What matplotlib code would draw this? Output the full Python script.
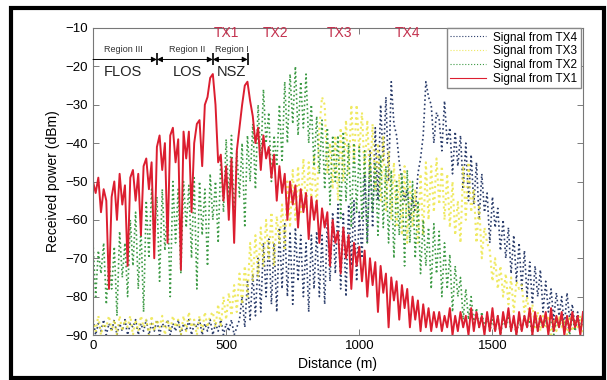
import numpy as np
import matplotlib
matplotlib.use('Agg')
import matplotlib.pyplot as plt
from matplotlib.patches import Rectangle

plt.rcParams['font.family'] = ['Liberation Sans', 'DejaVu Sans']

# Distancia (m), un valor cada 10 m
dist = np.arange(0, 1841, 10)

# Potencia recibida (dBm), cada fila = 100 m
tx1 = [
    -50, -53, -49, -58, -52, -55, -78, -54, -50, -60,
    -48, -56, -51, -72, -49, -47, -55, -48, -64, -46,
    -44, -52, -45, -70, -41, -38, -47, -40, -66, -38,
    -36, -45, -39, -73, -37, -44, -37, -58, -40, -35,
    -34, -46, -30, -28, -23, -22, -30, -45, -43, -55,
    -46, -60, -44, -66, -42, -36, -30, -25, -24, -29,
    -33, -40, -36, -47, -38, -44, -41, -49, -43, -55,
    -46, -53, -48, -60, -50, -56, -51, -62, -52, -58,
    -53, -65, -54, -60, -55, -66, -57, -62, -58, -72,
    -60, -66, -63, -74, -62, -70, -64, -78, -66, -72,
    -67, -76, -68, -80, -70, -77, -71, -84, -72, -79,
    -74, -88, -75, -81, -76, -86, -77, -83, -78, -88,
    -80, -86, -81, -89, -82, -88, -83, -89, -84, -88,
    -84, -89, -85, -88, -83, -90, -85, -89, -84, -88,
    -85, -90, -83, -89, -84, -88, -85, -90, -84, -89,
    -83, -89, -85, -90, -84, -88, -83, -89, -85, -90,
    -84, -89, -85, -88, -83, -90, -84, -89, -85, -88,
    -84, -90, -83, -89, -85, -88, -84, -90, -85, -89,
    -84, -88, -85, -90, -84,
]
tx2 = [
    -66, -80, -68, -74, -66, -82, -70, -78, -67, -85,
    -63, -75, -66, -80, -60, -72, -58, -78, -62, -84,
    -55, -70, -52, -66, -54, -76, -52, -68, -56, -80,
    -50, -66, -52, -74, -50, -62, -51, -70, -49, -78,
    -50, -64, -52, -72, -48, -60, -50, -66, -44, -58,
    -39, -55, -38, -60, -42, -54, -40, -62, -38, -50,
    -35, -52, -30, -45, -26, -40, -32, -50, -38, -46,
    -30, -45, -24, -40, -22, -35, -20, -38, -24, -36,
    -22, -40, -30, -46, -33, -48, -34, -52, -36, -56,
    -38, -50, -38, -60, -37, -55, -40, -62, -40, -58,
    -41, -60, -42, -66, -44, -58, -45, -64, -43, -62,
    -46, -66, -47, -70, -50, -64, -48, -72, -47, -66,
    -50, -70, -55, -74, -60, -72, -62, -78, -61, -74,
    -63, -80, -66, -78, -69, -84, -72, -80, -75, -86,
    -78, -86, -80, -87, -83, -88, -84, -88, -85, -89,
    -86, -89, -85, -90, -86, -88, -85, -89, -86, -90,
    -86, -89, -85, -88, -86, -90, -85, -89, -86, -88,
    -86, -89, -85, -90, -86, -88, -85, -89, -86, -90,
    -85, -89, -86, -88, -85,
]
tx3 = [
    -86, -89, -85, -90, -87, -88, -85, -89, -86, -90,
    -85, -89, -86, -88, -85, -90, -86, -89, -85, -88,
    -86, -90, -85, -89, -86, -88, -85, -90, -86, -89,
    -85, -88, -86, -90, -85, -89, -84, -88, -86, -90,
    -85, -89, -84, -88, -85, -84, -88, -82, -88, -80,
    -86, -79, -85, -77, -84, -74, -82, -72, -80, -66,
    -76, -64, -75, -62, -72, -60, -70, -58, -72, -59,
    -66, -56, -68, -50, -62, -47, -60, -46, -58, -44,
    -57, -45, -55, -43, -58, -36, -28, -30, -48, -40,
    -52, -38, -55, -36, -50, -34, -48, -30, -45, -30,
    -42, -32, -48, -34, -50, -35, -52, -40, -55, -38,
    -58, -42, -60, -45, -62, -48, -64, -46, -66, -50,
    -62, -52, -66, -48, -64, -45, -60, -46, -58, -44,
    -56, -46, -60, -48, -62, -50, -64, -55, -66, -46,
    -60, -45, -58, -52, -66, -56, -70, -62, -66, -68,
    -76, -70, -78, -72, -80, -74, -82, -75, -84, -76,
    -78, -77, -84, -80, -86, -82, -88, -84, -89, -85,
    -88, -85, -90, -86, -89, -85, -88, -86, -90, -85,
    -89, -86, -88, -85, -90,
]
tx4 = [
    -86, -90, -87, -89, -86, -90, -87, -89, -86, -90,
    -87, -89, -86, -90, -87, -88, -86, -90, -87, -89,
    -86, -90, -87, -89, -86, -90, -87, -88, -86, -90,
    -87, -89, -86, -90, -87, -89, -86, -90, -87, -88,
    -86, -90, -87, -89, -86, -90, -87, -89, -86, -90,
    -87, -89, -86, -90, -88, -86, -80, -88, -76, -86,
    -74, -85, -70, -84, -66, -80, -65, -82, -66, -84,
    -62, -78, -61, -80, -63, -82, -62, -76, -64, -80,
    -66, -84, -64, -78, -63, -80, -64, -82, -60, -76,
    -58, -74, -56, -78, -58, -80, -56, -72, -55, -76,
    -58, -70, -48, -66, -42, -62, -36, -55, -30, -45,
    -28, -50, -24, -35, -38, -45, -50, -55, -52, -60,
    -54, -58, -48, -44, -38, -24, -28, -30, -40, -32,
    -34, -42, -29, -40, -36, -48, -37, -46, -38, -52,
    -40, -55, -43, -56, -45, -60, -48, -58, -53, -66,
    -54, -62, -57, -68, -60, -70, -62, -74, -64, -76,
    -66, -78, -68, -80, -71, -82, -72, -80, -73, -84,
    -76, -84, -78, -86, -79, -85, -80, -88, -79, -86,
    -82, -88, -84, -89, -86,
]

# Etiquetas de transmisores y regiones
tx_names = ['TX1', 'TX2', 'TX3', 'TX4']
tx_label_x = [502, 686, 927, 1181]
region_edges = [0, 240, 450, 581]
region_names = ['Region III', 'Region II', 'Region I']
zone_names = ['FLOS', 'LOS', 'NSZ']
region_text_x = [113, 353, 520]

fig = plt.figure(figsize=(6.07, 3.8), dpi=100)
ax = fig.add_axes([93/607, 1 - 335/380, 490/607, 307/380])

# Orden de dibujo: TX4 abajo, TX1 arriba
l4, = ax.plot(dist, tx4, ls=':', color='#2b3d6b', lw=1.2, label='Signal from TX4')
l3, = ax.plot(dist, tx3, ls=':', color='#ebe43c', lw=1.5, alpha=0.8, label='Signal from TX3')
l2, = ax.plot(dist, tx2, ls=':', color='#3d9a45', lw=1.2, label='Signal from TX2')
l1, = ax.plot(dist, tx1, ls='-', color='#dc1e30', lw=1.4, label='Signal from TX1')

ax.set_xlim(0, 1840)
ax.set_ylim(-90, -10)
ax.set_xticks([0, 500, 1000, 1500])
ax.set_yticks(np.arange(-90, -9, 10))
ax.tick_params(direction='in', top=True, right=True, length=4, labelsize=9.5, width=0.6, color='#666')
for s in ax.spines.values():
    s.set_color('#777')
    s.set_linewidth(0.8)
ax.set_xlabel('Distance (m)', fontsize=10)
ax.set_ylabel('Received power (dBm)', fontsize=10)

# Flechas de regiones
yr = -18.2
ax.annotate('', xy=(region_edges[1], yr), xytext=(region_edges[0], yr),
            arrowprops=dict(arrowstyle='-|>', color='k', lw=0.7, shrinkA=0, shrinkB=0, mutation_scale=8))
for a, b in [(region_edges[1], region_edges[2]), (region_edges[2], region_edges[3])]:
    ax.annotate('', xy=(b, yr), xytext=(a, yr),
                arrowprops=dict(arrowstyle='<|-|>', color='k', lw=0.7, shrinkA=0, shrinkB=0, mutation_scale=8))
ax.plot(region_edges[1:], [yr] * 3, ls='none', marker='|', ms=8, mew=1.2, color='k')

for xt, rn, zn in zip(region_text_x, region_names, zone_names):
    ax.text(xt, -15.5, rn, ha='center', va='center', fontsize=6.5, color='#333')
    ax.text(xt, -21.4, zn, ha='center', va='center', fontsize=10.5, color='#222')

for xt, nm in zip(tx_label_x, tx_names):
    ax.text(xt, -11.4, nm, ha='center', va='center', fontsize=10, color='#c3304d')

leg = ax.legend(handles=[l4, l3, l2, l1], loc='upper right', bbox_to_anchor=(0.995, 1.0),
                borderaxespad=0, fontsize=8.5, fancybox=False, framealpha=1, edgecolor='#888',
                handlelength=3.0, labelspacing=0.15, borderpad=0.3, handletextpad=0.6)
for h in leg.get_lines():
    h.set_linewidth(0.8)

# Marco exterior
fig.add_artist(Rectangle((11/607, 2/380), 593/607, 370/380, transform=fig.transFigure,
                         fill=False, lw=3, edgecolor='k'))

fig.savefig('out.png', dpi=100)
